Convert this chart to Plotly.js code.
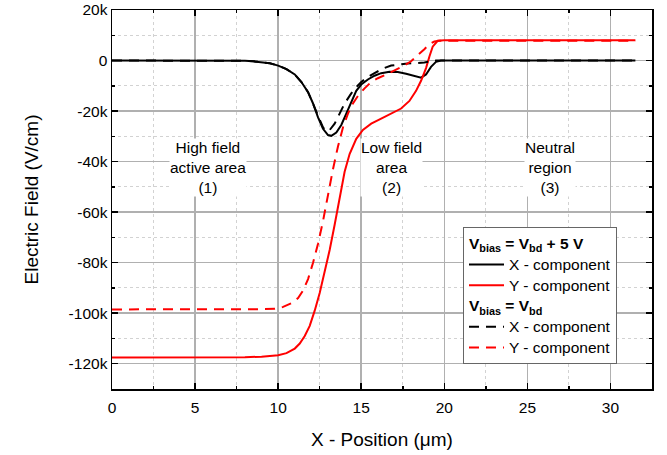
<!DOCTYPE html>
<html>
<head>
<meta charset="utf-8">
<script src="https://cdn.plot.ly/plotly-3.0.1.min.js"></script>
<style>
  html, body { margin: 0; padding: 0; background: #fff; }
  #chart { width: 667px; height: 455px; }
</style>
</head>
<body>
<div id="chart"></div>
<script>
// Electric field components along the x position (um), values in V/cm.

// V_bias = V_bd + 5 V, X component
const xHiX = [0, 2, 4, 6, 7, 8, 8.5, 9, 9.5, 10, 10.5, 11, 11.4, 11.8, 12.1, 12.4, 12.7, 13.0, 13.2, 13.5, 13.8, 14.1, 14.4, 14.7, 15.0, 15.4, 15.8, 16.2, 16.7, 17.2, 17.7, 18.2, 18.6, 18.9, 19.2, 19.5, 19.8, 20.5, 22, 25, 28, 31.5];
const eHiX = [0, 0, 0, 0, 0, -100, -300, -600, -1100, -2000, -3400, -5500, -8500, -12500, -17000, -22500, -27000, -29500, -29800, -28500, -25500, -21000, -16500, -12000, -9500, -7500, -6000, -5000, -4400, -4500, -5200, -6200, -6800, -5500, -2500, -500, 0, 0, 0, 0, 0, 0];

// V_bias = V_bd + 5 V, Y component
const xHiY = [0, 5, 8, 9, 9.5, 10, 10.5, 11, 11.3, 11.6, 11.9, 12.2, 12.5, 12.8, 13.1, 13.4, 13.7, 14.0, 14.3, 14.7, 15.1, 15.6, 16.2, 16.8, 17.4, 17.9, 18.3, 18.6, 18.9, 19.1, 19.3, 19.6, 20, 22, 25, 28, 31.5];
const eHiY = [-117500, -117500, -117400, -117200, -117000, -116600, -115800, -114000, -112000, -109000, -105000, -99000, -92000, -84000, -75000, -65000, -54000, -44000, -37000, -31000, -27500, -25000, -23000, -21000, -19000, -16000, -12000, -8000, -3000, 1500, 5500, 7800, 8000, 8000, 8000, 8000, 8000];

// V_bias = V_bd, X component
const xBdX = [0, 2, 4, 6, 7, 8, 8.5, 9, 9.5, 10, 10.5, 11, 11.4, 11.8, 12.1, 12.4, 12.7, 12.9, 13.1, 13.4, 13.7, 14.0, 14.4, 14.7, 15.0, 15.4, 15.8, 16.3, 16.8, 17.3, 17.8, 18.3, 18.8, 19.2, 19.5, 20.5, 22, 25, 28, 31.5];
const eBdX = [0, 0, 0, 0, 0, -100, -300, -600, -1100, -2000, -3400, -5500, -8500, -12500, -17000, -22000, -26500, -28000, -27500, -25000, -21000, -17000, -13000, -10500, -8500, -6500, -5000, -3200, -2000, -1500, -1200, -1000, -800, -300, 0, 0, 0, 0, 0, 0];

// V_bias = V_bd, Y component
const xBdY = [0, 5, 9, 9.8, 10.3, 10.8, 11.2, 11.5, 11.8, 12.1, 12.4, 12.7, 13.0, 13.3, 13.6, 13.9, 14.2, 14.5, 14.8, 15.2, 15.6, 16.0, 16.5, 17.0, 17.5, 18.0, 18.4, 18.8, 19.1, 19.4, 19.7, 20.5, 25, 31.5];
const eBdY = [-98500, -98500, -98400, -98200, -97500, -96000, -94000, -91000, -86500, -80000, -72500, -63500, -53000, -43000, -34000, -26500, -21000, -17000, -14000, -11000, -8500, -7000, -5500, -4000, -2300, -300, 2000, 4500, 6500, 7500, 7800, 7800, 7800, 7800];

// Axis tick labels
const yTickVals = [20000, 0, -20000, -40000, -60000, -80000, -100000, -120000];
const yTickText = ['20k', '0', '-20k', '-40k', '-60k', '-80k', '-100k', '-120k'];
const xTickVals = [0, 5, 10, 15, 20, 25, 30];
const xTickText = ['0', '5', '10', '15', '20', '25', '30'];

// Region labels
const regionX = [5.8, 16.85, 26.35];
const regionY = [-42500, -42500, -42500];
const regionText = ['High field<br>active area<br>(1)', 'Low field<br>area<br>(2)', 'Neutral<br>region<br>(3)'];

// Legend entry texts
const seriesNames = ['X - component', 'Y - component', 'X - component', 'Y - component'];
const groupTitles = ['V<sub>bias</sub> = V<sub>bd</sub> + 5 V', 'V<sub>bias</sub> = V<sub>bd</sub>'];

const FONT = 'Liberation Sans, Arial, Helvetica, sans-serif';
// legend rows are spaced from a compact base size; the text itself is drawn larger
const big = (s) => '<span style="font-size:15.5px">' + s + '</span>';
const grpFont = { family: FONT, size: 13.7, color: '#000' };

const traces = [
  { x: xHiX, y: eHiX, name: big(seriesNames[0]), legendgroup: 'hi',
    legendgrouptitle: { text: '<b>' + big(groupTitles[0]) + '</b>', font: grpFont },
    mode: 'lines', line: { color: '#000000', width: 2 } },
  { x: xHiY, y: eHiY, name: big(seriesNames[1]), legendgroup: 'hi',
    mode: 'lines', line: { color: '#ff0000', width: 2 } },
  { x: xBdX, y: eBdX, name: big(seriesNames[2]), legendgroup: 'bd',
    legendgrouptitle: { text: '<b>' + big(groupTitles[1]) + '</b>', font: grpFont },
    mode: 'lines', line: { color: '#000000', width: 2, dash: '10px,7px' } },
  { x: xBdY, y: eBdY, name: big(seriesNames[3]), legendgroup: 'bd',
    mode: 'lines', line: { color: '#ff0000', width: 2, dash: '10px,7px' } }
];

const axisCommon = {
  showline: true, linecolor: '#000', linewidth: 1.5, mirror: 'ticks',
  ticks: 'inside', ticklen: 6, tickwidth: 1.5, tickcolor: '#000',
  showgrid: true, gridcolor: '#b0b0b0', gridwidth: 1.5, zeroline: false,
  tickfont: { family: FONT, size: 15.5, color: '#000' },
  tickmode: 'array'
};

const layout = {
  width: 667, height: 455,
  margin: { l: 112, r: 15, t: 10, b: 66 },
  paper_bgcolor: '#fff', plot_bgcolor: '#fff',
  font: { family: FONT, color: '#000' },
  showlegend: true,
  xaxis: Object.assign({}, axisCommon, {
    range: [0, 32.5], tickvals: xTickVals, ticktext: xTickText,
    ticklabelstandoff: 4,
    minor: { tickmode: 'linear', tick0: 0, dtick: 2.5, ticks: 'inside', ticklen: 3, tickcolor: '#000',
             showgrid: true, gridcolor: '#d2d2d2', griddash: 'dot', gridwidth: 1 },
    title: { text: 'X - Position (μm)', font: { family: FONT, size: 19, color: '#000' }, standoff: 17 }
  }),
  yaxis: Object.assign({}, axisCommon, {
    range: [-130000, 20000], tickvals: yTickVals, ticktext: yTickText,
    minor: { tickmode: 'linear', tick0: 0, dtick: 10000, ticks: 'inside', ticklen: 3, tickcolor: '#000',
             showgrid: true, gridcolor: '#d2d2d2', griddash: 'dot', gridwidth: 1 },
    title: { text: 'Electric Field (V/cm)', font: { family: FONT, size: 19, color: '#000' }, standoff: 25 }
  }),
  legend: {
    x: 0.65, y: 0.427, xanchor: 'left', yanchor: 'top',
    bgcolor: '#fff', bordercolor: '#666', borderwidth: 1,
    traceorder: 'grouped', tracegroupgap: 0,
    font: { family: FONT, size: 13.7, color: '#000' },
    itemwidth: 35
  },
  annotations: regionText.map((t, i) => ({
    x: regionX[i], y: regionY[i], xref: 'x', yref: 'y',
    text: t, showarrow: false, align: 'center',
    bgcolor: '#fff', borderpad: 0,
    font: { family: FONT, size: 15.5, color: '#000' }
  }))
};

Plotly.newPlot('chart', traces, layout, { staticPlot: true, displayModeBar: false });
</script>
</body>
</html>
